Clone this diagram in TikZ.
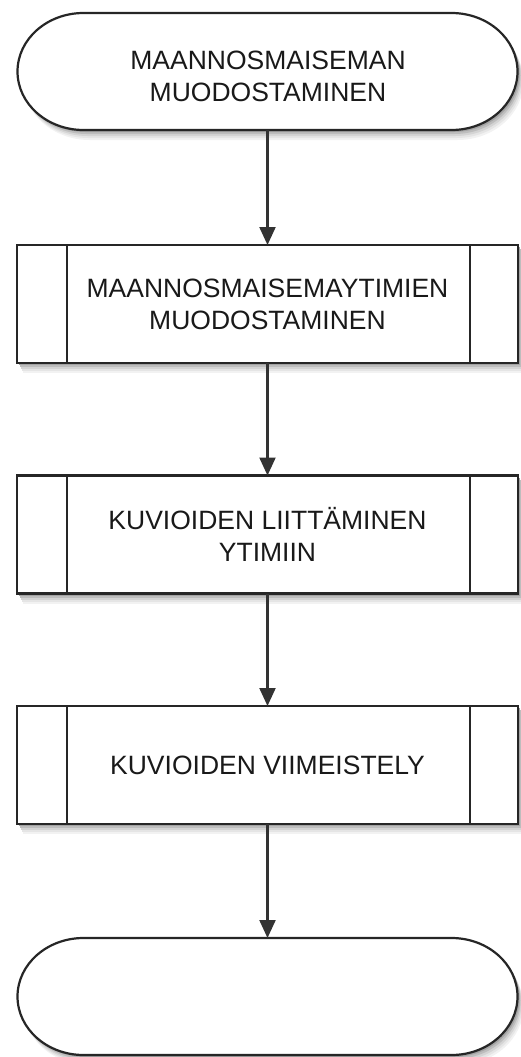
\documentclass[tikz,border=0pt]{standalone}
\usepackage{fontspec}
\setmainfont{Liberation Sans}
\usetikzlibrary{arrows.meta,calc}

\newcommand\termshape[1]{(83.5,#1-58.5) -- (451.5,#1-58.5)
   arc[start angle=90,end angle=-90,x radius=66pt,y radius=58.5pt]
   -- (83.5,#1+58.5)
   arc[start angle=270,end angle=90,x radius=66pt,y radius=58.5pt] -- cycle}
\newcommand\procshape[1]{(17,#1-59) rectangle (518,#1+59)}

\begin{document}
\begin{tikzpicture}[x=1pt,y=-1pt,
  outline/.style={draw=black!85, line width=2.2pt, fill=white},
  txt/.style={font=\fontsize{26.5}{32}\selectfont, text=black!90, align=center},
  termbox/.style={rectangle, minimum width=501pt, minimum height=117pt, inner sep=0pt, outer sep=0pt},
  procbox/.style={outline, rectangle, minimum width=501pt, minimum height=118pt, inner sep=0pt, outer sep=0pt, txt},
  inner/.style={draw=black!85, line width=2.2pt},
  flow/.style={draw=black!80, line width=2.2pt, -{Triangle[width=16pt,length=18pt]}}]

\useasboundingbox (0,0) rectangle (520,1057);

% soft shadows
\foreach \dx/\dy/\sh in {6/10/5, 5/8/10, 4/6/17, 3/4/26, 2/2/36}{
  \fill[black!\sh, shift={(\dx,\dy)}] \termshape{71.5};
  \fill[black!\sh, shift={(\dx,\dy)}] \termshape{996.5};
  \foreach \cy in {304,534.5,765}{
    \fill[black!\sh, shift={(\dx,\dy)}] \procshape{\cy};
  }
}

% terminals (frames)
\draw[outline] \termshape{71.5};
\draw[outline] \termshape{996.5};
\node[termbox] (t1) at (267.5,71.5) {};
\node[termbox] (t2) at (267.5,996.5) {};
\node[txt] (t1text) at (268,76) {MAANNOSMAISEMAN\\MUODOSTAMINEN};

% process boxes
\node[procbox] (b1) at (267.5,304) {MAANNOSMAISEMAYTIMIEN\\MUODOSTAMINEN};
\node[procbox] (b2) at (267.5,534.5) {KUVIOIDEN LIITTÄMINEN\\YTIMIIN};
\node[procbox] (b3) at (267.5,765) {KUVIOIDEN VIIMEISTELY};
\foreach \bx in {b1,b2,b3}{
  \draw[inner] ($(\bx.north west)+(50,0)$) -- ($(\bx.south west)+(50,0)$);
  \draw[inner] ($(\bx.north east)+(-48,0)$) -- ($(\bx.south east)+(-48,0)$);
}

% connectors
\draw[flow] (t1.south) -- (b1.north);
\draw[flow] (b1.south) -- (b2.north);
\draw[flow] (b2.south) -- (b3.north);
\draw[flow] (b3.south) -- (t2.north);
\end{tikzpicture}
\end{document}
